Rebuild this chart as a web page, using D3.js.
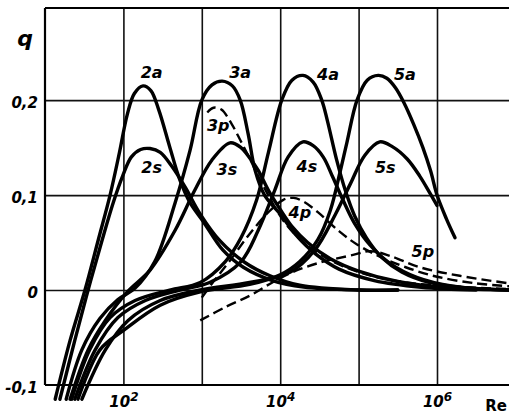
<!DOCTYPE html>
<meta charset="utf-8">
<script src="https://cdnjs.cloudflare.com/ajax/libs/d3/7.8.5/d3.min.js"></script>
<style>
body { margin: 0; background: #fff; }
text { font-family: "DejaVu Sans", sans-serif; fill: #000; }
</style>
<body>
<script>

var width = 509
var height = 416

// each curve: [lg Re, q]
var c2a = [[1.13,-0.115],[1.32,-0.053],[1.51,0],[1.68,0.053],[1.83,0.1],[1.95,0.145],[2.05,0.185],[2.14,0.207],[2.25,0.215],[2.35,0.21],[2.45,0.19],[2.59,0.151],[2.72,0.116],[2.85,0.092],[3.02,0.072],[3.27,0.042],[3.53,0.024],[3.9,0.01],[4.3,0.003],[5.0,0.0],[5.5,0.0]]
var c2s = [[1.19,-0.115],[1.38,-0.053],[1.55,0],[1.72,0.05],[1.87,0.092],[1.99,0.12],[2.1,0.14],[2.22,0.148],[2.34,0.149],[2.47,0.145],[2.62,0.13],[2.79,0.108],[2.98,0.08],[3.23,0.052],[3.55,0.029],[3.87,0.015],[4.25,0.005],[5.0,0.0],[5.5,0.0]]
var c3a = [[1.27,-0.115],[1.47,-0.063],[1.7,-0.03],[1.93,-0.01],[2.15,0.002],[2.4,0.03],[2.66,0.092],[2.85,0.147],[3.0,0.2],[3.13,0.216],[3.26,0.22],[3.39,0.215],[3.49,0.2],[3.59,0.165],[3.68,0.126],[3.8,0.1],[4.0,0.08],[4.2,0.058],[4.45,0.038],[4.75,0.022],[5.2,0.01],[5.8,0.003],[6.5,0]]
var c3s = [[1.32,-0.115],[1.55,-0.063],[1.77,-0.032],[2.05,-0.002],[2.34,0.021],[2.66,0.063],[2.91,0.105],[3.13,0.137],[3.36,0.155],[3.5,0.15],[3.62,0.138],[3.72,0.126],[3.85,0.105],[4.0,0.085],[4.16,0.066],[4.35,0.05],[4.64,0.033],[5.0,0.02],[5.5,0.009],[6.2,0.002],[6.92,0]]
var c4a = [[1.34,-0.115],[1.57,-0.063],[1.83,-0.029],[2.15,-0.011],[2.59,0.0],[2.98,0.008],[3.3,0.03],[3.5,0.055],[3.7,0.095],[3.85,0.145],[4.02,0.2],[4.15,0.221],[4.29,0.226],[4.42,0.219],[4.53,0.2],[4.6,0.179],[4.72,0.137],[4.83,0.105],[4.95,0.078],[5.1,0.055],[5.3,0.034],[5.55,0.019],[5.9,0.008],[6.4,0.002],[6.92,0]]
var c4s = [[1.38,-0.115],[1.64,-0.063],[1.93,-0.029],[2.28,-0.011],[2.72,0.0],[3.1,0.008],[3.5,0.03],[3.72,0.063],[3.93,0.105],[4.1,0.14],[4.29,0.156],[4.42,0.152],[4.55,0.14],[4.67,0.119],[4.8,0.095],[4.95,0.07],[5.15,0.047],[5.4,0.028],[5.75,0.013],[6.2,0.004],[6.92,0]]
var c5a = [[1.42,-0.115],[1.7,-0.063],[2.01,-0.042],[2.47,-0.016],[2.98,-0.002],[3.61,0.006],[4.0,0.016],[4.25,0.03],[4.48,0.053],[4.64,0.084],[4.76,0.123],[4.85,0.155],[4.98,0.2],[5.11,0.221],[5.25,0.226],[5.36,0.223],[5.47,0.213],[5.58,0.197],[5.7,0.175],[5.82,0.15],[5.92,0.125],[6.0,0.1],[6.12,0.075],[6.23,0.055]]
var c5s = [[1.47,-0.115],[1.77,-0.063],[2.06,-0.032],[2.47,-0.011],[2.98,0.0],[3.61,0.008],[4.13,0.019],[4.44,0.042],[4.7,0.079],[4.89,0.111],[5.08,0.142],[5.27,0.156],[5.43,0.151],[5.62,0.138],[5.78,0.12],[5.91,0.102],[6.0,0.089]]
var c3p = [[3.07,0.187],[3.15,0.192],[3.25,0.19],[3.38,0.175],[3.49,0.158],[3.59,0.142],[3.72,0.12],[3.88,0.095],[4.05,0.072],[4.3,0.05],[4.6,0.033],[5.0,0.019],[5.6,0.008],[6.92,0.001]]
var c4p = [[3.0,-0.008],[3.14,0.008],[3.35,0.03],[3.6,0.058],[3.85,0.082],[4.04,0.095],[4.17,0.097],[4.3,0.093],[4.48,0.082],[4.75,0.062],[4.98,0.048],[5.3,0.034],[5.6,0.024],[6.0,0.014],[6.5,0.007],[6.92,0.004]]
var c5p = [[2.98,-0.032],[3.3,-0.018],[3.61,-0.006],[3.9,0.008],[4.16,0.019],[4.51,0.029],[4.93,0.037],[5.15,0.041],[5.4,0.036],[5.78,0.024],[6.29,0.015],[6.92,0.007]]

var solidCurves = [c2a, c2s, c3a, c3s, c4a, c4s, c5a, c5s]
var dashedCurves = [c3p, c4p, c5p]

// curve names and where they are written [lg Re, q]
var labelNames = ["2a", "3a", "4a", "5a", "2s", "3s", "4s", "5s", "3p", "4p", "5p"]
var labelPos = [[2.36,0.223],[3.49,0.223],[4.61,0.221],[5.59,0.221],[2.36,0.123],[3.32,0.121],[4.34,0.124],[5.34,0.123],[3.21,0.168],[4.25,0.076],[5.82,0.035]]

var yTicks = [-0.1, 0, 0.1, 0.2]
var yGrid = [0, 0.1, 0.2]
var xGrid = [1e2, 1e3, 1e4, 1e5, 1e6]
var xTicks = [1e2, 1e4, 1e6]

var x = d3.scaleLog().domain([10, 1e7]).range([45, 515.4])
var y = d3.scaleLinear().domain([-0.1, 0.297]).range([385, 8])

var svg = d3.select("body").append("svg")
            .attr("width", width)
            .attr("height", height)

// grid
svg.append("g")
    .attr("transform", "translate(0," + y(-0.1) + ")")
    .call(d3.axisBottom(x).tickValues(xGrid).tickSize(-(y(-0.1) - y(0.297))).tickFormat(""))
    .call(g => g.select(".domain").remove())
    .selectAll("line").attr("stroke", "#111").attr("stroke-width", 1.6)

svg.append("g")
    .attr("transform", "translate(" + x(10) + ",0)")
    .call(d3.axisLeft(y).tickValues(yGrid).tickSize(-(width - x(10))).tickFormat(""))
    .call(g => g.select(".domain").remove())
    .selectAll("line").attr("stroke", "#111").attr("stroke-width", 1.6)

// frame: left, top, bottom
var frame = svg.append("g").attr("stroke", "#000").attr("stroke-width", 2.2)
frame.append("line").attr("x1", x(10)).attr("x2", x(10)).attr("y1", y(0.297)).attr("y2", y(-0.1))
frame.append("line").attr("x1", x(10)).attr("x2", width).attr("y1", y(0.297)).attr("y2", y(0.297))
frame.append("line").attr("x1", x(10)).attr("x2", width).attr("y1", y(-0.1)).attr("y2", y(-0.1))

var line = d3.line()
    .x(d => x(Math.pow(10, d[0])))
    .y(d => y(d[1]))
    .curve(d3.curveCatmullRom.alpha(0.5))

svg.append("g").selectAll("path").data(solidCurves).join("path")
    .attr("d", line)
    .attr("fill", "none")
    .attr("stroke", "#000")
    .attr("stroke-width", 3.4)
    .attr("stroke-linecap", "round")

svg.append("g").selectAll("path").data(dashedCurves).join("path")
    .attr("d", line)
    .attr("fill", "none")
    .attr("stroke", "#000")
    .attr("stroke-width", 2.4)
    .attr("stroke-dasharray", "10,5")

// curve labels
svg.append("g").selectAll("text").data(labelNames).join("text")
    .attr("x", (d, i) => x(Math.pow(10, labelPos[i][0])))
    .attr("y", (d, i) => y(labelPos[i][1]))
    .attr("text-anchor", "middle")
    .style("font-size", "16px")
    .style("font-weight", "bold")
    .style("font-style", "italic")
    .text(d => d)

// y tick labels
svg.append("g")
    .attr("transform", "translate(" + x(10) + ",0)")
    .call(d3.axisLeft(y).tickValues(yTicks).tickSize(0).tickPadding(7)
        .tickFormat(d => d === 0 ? "0" : d3.format(".1f")(d).replace(".", ",").replace("−", "-")))
    .call(g => g.select(".domain").remove())
    .selectAll("text")
    .attr("dy", "0.5em")
    .style("font-size", "15px")
    .style("font-weight", "bold")
    .style("font-style", "italic")
    .style("font-family", "DejaVu Sans, sans-serif")

// x tick labels 10^n
var xAx = svg.append("g")
    .attr("transform", "translate(0," + y(-0.1) + ")")
    .call(d3.axisBottom(x).tickValues(xTicks).tickSize(0).tickPadding(11).tickFormat(""))
    .call(g => g.select(".domain").remove())
xAx.selectAll(".tick text").each(function(d) {
  var t = d3.select(this)
  t.style("font-size", "15px").style("font-weight", "bold").style("font-style", "italic").style("font-family", "DejaVu Sans, sans-serif")
  t.append("tspan").text("10")
  t.append("tspan").attr("dy", "-0.5em").style("font-size", "12px").text(Math.round(Math.log10(d)))
})

svg.append("text")
   .attr("x", 496)
   .attr("y", 411)
   .attr("text-anchor", "middle")
   .style("font-size", "15px")
   .style("font-weight", "bold")
   .text("Re")

svg.append("text")
   .attr("x", 25)
   .attr("y", 46)
   .attr("text-anchor", "middle")
   .style("font-size", "22px")
   .style("font-weight", "bold")
   .style("font-style", "italic")
   .text("q")

</script>
</body>
